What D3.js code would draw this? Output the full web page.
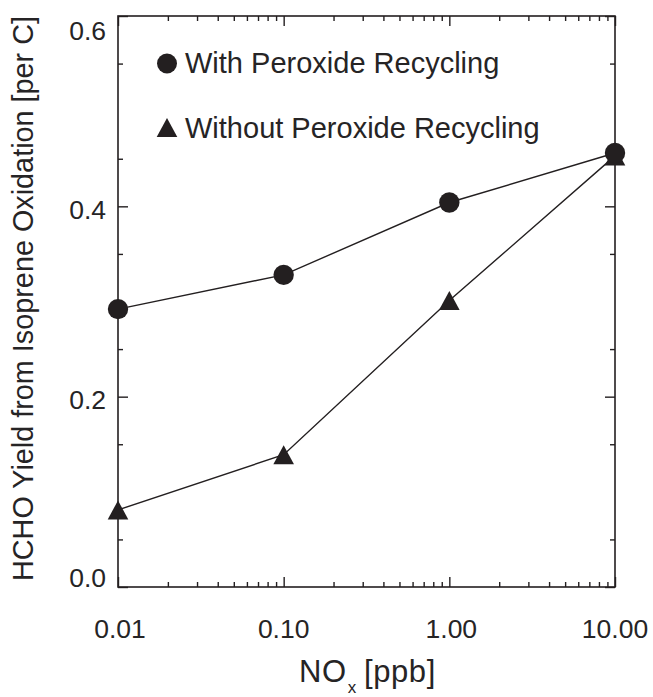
<!DOCTYPE html>
<html>
<head>
<meta charset="utf-8">
<script src="https://cdn.jsdelivr.net/npm/d3@7"></script>
<style>
  html, body { margin: 0; padding: 0; background: #fff; }
  svg { display: block; }
  text { font-family: "Liberation Sans", Arial, Helvetica, sans-serif; fill: #262425; }
</style>
</head>
<body>
<div id="chart"></div>
<script>
// ---- data ----
const noxValues = [0.01, 0.1, 1, 10];
const withRecycling = [0.292, 0.328, 0.404, 0.456];
const withoutRecycling = [0.081, 0.139, 0.301, 0.453];
const xTickValues = [0.01, 0.1, 1, 10];
const xTickLabels = ["0.01", "0.10", "1.00", "10.00"];
const yTickValues = [0.0, 0.2, 0.4, 0.6];
const yTickLabels = ["0.0", "0.2", "0.4", "0.6"];
const legendLabels = ["With Peroxide Recycling", "Without Peroxide Recycling"];

// ---- layout ----
const W = 653, H = 697;
const L = 118, R = 615, T = 16, B = 587;
const ink = "#231f20";

const svg = d3.select("#chart").append("svg").attr("width", W).attr("height", H);

const x = d3.scaleLog().domain([0.01, 10]).range([L, R]);
const y = d3.scaleLinear().domain([0, 0.6]).range([B, T]);

// minor ticks
const xMinor = [];
[0.01, 0.1, 1].forEach(d => { for (let k = 2; k <= 9; k++) xMinor.push(d * k); });
const yMinor = d3.range(0.05, 0.6, 0.1).map(v => +v.toFixed(2));

function styleAxis(g) {
  g.select(".domain").remove();
  g.selectAll(".tick line").attr("stroke", ink).attr("stroke-width", 1.4);
  g.selectAll(".tick text").remove();
}

// bottom/top x axes
[[d3.axisBottom, B], [d3.axisTop, T]].forEach(([ax, pos]) => {
  svg.append("g").attr("transform", `translate(0,${pos})`)
    .call(ax(x).tickValues(xTickValues).tickSize(-10).tickFormat(() => "")).call(styleAxis);
  svg.append("g").attr("transform", `translate(0,${pos})`)
    .call(ax(x).tickValues(xMinor).tickSize(-5).tickFormat(() => "")).call(styleAxis);
});
// left/right y axes
[[d3.axisLeft, L], [d3.axisRight, R]].forEach(([ax, pos]) => {
  svg.append("g").attr("transform", `translate(${pos},0)`)
    .call(ax(y).tickValues(yTickValues).tickSize(-10).tickFormat(() => "")).call(styleAxis);
  svg.append("g").attr("transform", `translate(${pos},0)`)
    .call(ax(y).tickValues(yMinor).tickSize(-5).tickFormat(() => "")).call(styleAxis);
});

// frame
svg.append("rect").attr("x", L).attr("y", T).attr("width", R - L).attr("height", B - T)
  .attr("fill", "none").attr("stroke", ink).attr("stroke-width", 1.6);

// tick labels
svg.append("g").selectAll("text").data(xTickValues).join("text")
  .attr("x", (d, i) => x(d) + (i === 0 ? 2 : (i === 2 ? 2 : 0)))
  .attr("y", 637.5)
  .attr("text-anchor", "middle")
  .attr("font-size", 26.5)
  .text((d, i) => xTickLabels[i]);

svg.append("g").selectAll("text").data(yTickValues).join("text")
  .attr("x", 106)
  .attr("y", d => Math.min(Math.max(y(d) + 3, 31), 578) + 9.3)
  .attr("text-anchor", "end")
  .attr("font-size", 26.5)
  .text((d, i) => yTickLabels[i]);

// axis titles
const xt = svg.append("text").attr("x", (L + R) / 2 + 1).attr("y", 682)
  .attr("text-anchor", "middle").attr("font-size", 31).attr("letter-spacing", 0.6);
xt.append("tspan").text("NO");
xt.append("tspan").attr("font-size", 17).attr("dx", 1).attr("dy", 11).text("x");
xt.append("tspan").attr("dy", -11).attr("dx", 7).text("[ppb]");

svg.append("text")
  .attr("transform", `translate(33,${(T + B) / 2 - 3}) rotate(-90)`)
  .attr("text-anchor", "middle")
  .attr("font-size", 28.8)
  .text("HCHO Yield from Isoprene Oxidation [per C]");

// ---- data marks ----
const line = d3.line().x(d => x(d[0])).y(d => y(d[1]));
const withPts = noxValues.map((v, i) => [v, withRecycling[i]]);
const withoutPts = noxValues.map((v, i) => [v, withoutRecycling[i]]);

svg.append("path").datum(withPts).attr("d", line)
  .attr("fill", "none").attr("stroke", ink).attr("stroke-width", 1.4);
svg.append("path").datum(withoutPts).attr("d", line)
  .attr("fill", "none").attr("stroke", ink).attr("stroke-width", 1.4);

const tri = (cx, cy) => `M${cx - 10.3},${cy + 9.5}L${cx + 10.3},${cy + 9.5}L${cx},${cy - 9.5}Z`;

svg.append("g").selectAll("path").data(withoutPts).join("path")
  .attr("d", d => tri(x(d[0]), y(d[1]))).attr("fill", ink);
svg.append("g").selectAll("circle").data(withPts).join("circle")
  .attr("cx", d => x(d[0])).attr("cy", d => y(d[1])).attr("r", 10.2).attr("fill", ink);

// ---- legend ----
const lg = svg.append("g");
lg.append("circle").attr("cx", 167).attr("cy", 63.5).attr("r", 10).attr("fill", ink);
lg.append("text").attr("x", 185).attr("y", 73.3).attr("font-size", 29).text(legendLabels[0]);
lg.append("path").attr("d", tri(167, 127.5)).attr("fill", ink);
lg.append("text").attr("x", 185).attr("y", 138.3).attr("font-size", 29).text(legendLabels[1]);
</script>
</body>
</html>
